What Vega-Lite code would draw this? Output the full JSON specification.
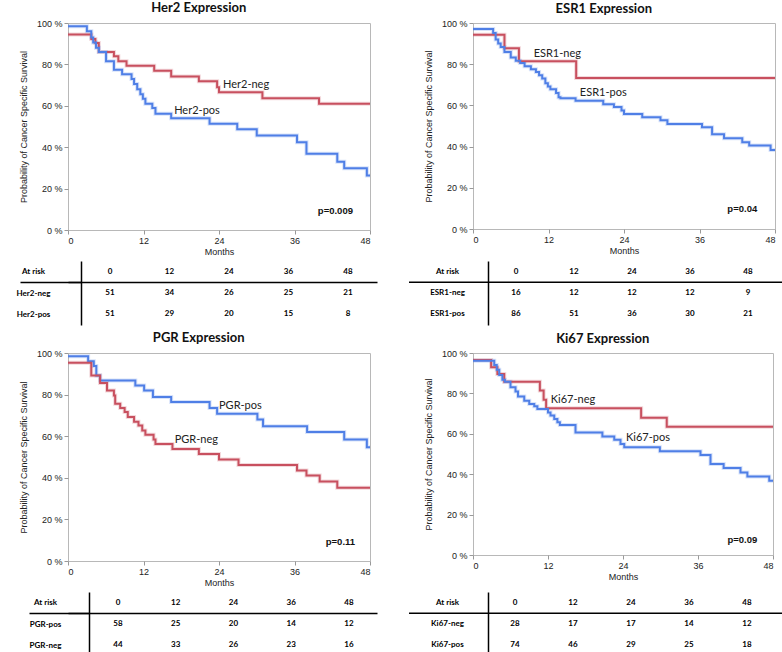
{
  "$schema": "https://vega.github.io/schema/vega-lite/v6.json",
  "padding": {"left": 16, "top": 1, "right": 0, "bottom": 0},
  "background": "white",
  "config": {
    "view": {"stroke": "#b8b8b8"},
    "axis": {"labelFont": "Liberation Sans", "labelFontSize": 9, "labelColor": "#222", "titleFont": "Liberation Sans", "titleFontSize": 9, "titleFontWeight": "normal", "titleColor": "#222", "tickColor": "#999", "domain": false, "grid": false},
    "title": {"font": "Lato", "fontSize": 13, "fontWeight": "bold", "color": "#111", "offset": 3},
    "text": {"font": "Lato"}
  },
  "datasets": {
    "her2": [
      {"group": "Her2-neg", "month": 0, "survival": 94.5}, {"group": "Her2-neg", "month": 3.7, "survival": 92.3}, {"group": "Her2-neg", "month": 4.35, "survival": 90.3}, {"group": "Her2-neg", "month": 4.9, "survival": 86}, {"group": "Her2-neg", "month": 7.3, "survival": 83.9}, {"group": "Her2-neg", "month": 8.0, "survival": 81.5}, {"group": "Her2-neg", "month": 9.3, "survival": 79.4}, {"group": "Her2-neg", "month": 13.7, "survival": 76.9}, {"group": "Her2-neg", "month": 16.4, "survival": 74.2}, {"group": "Her2-neg", "month": 20.8, "survival": 71.8}, {"group": "Her2-neg", "month": 23.7, "survival": 69}, {"group": "Her2-neg", "month": 24.0, "survival": 66.5}, {"group": "Her2-neg", "month": 30.9, "survival": 63.7}, {"group": "Her2-neg", "month": 39.9, "survival": 61}, {"group": "Her2-neg", "month": 48, "survival": 61},
      {"group": "Her2-pos", "month": 0, "survival": 98.4}, {"group": "Her2-pos", "month": 3.0, "survival": 96}, {"group": "Her2-pos", "month": 3.7, "survival": 93}, {"group": "Her2-pos", "month": 4.0, "survival": 90.6}, {"group": "Her2-pos", "month": 4.45, "survival": 88}, {"group": "Her2-pos", "month": 4.9, "survival": 86}, {"group": "Her2-pos", "month": 6.05, "survival": 81.5}, {"group": "Her2-pos", "month": 7.3, "survival": 77.4}, {"group": "Her2-pos", "month": 8.6, "survival": 75.3}, {"group": "Her2-pos", "month": 10.1, "survival": 73}, {"group": "Her2-pos", "month": 10.5, "survival": 70.5}, {"group": "Her2-pos", "month": 11.0, "survival": 68}, {"group": "Her2-pos", "month": 11.5, "survival": 65.6}, {"group": "Her2-pos", "month": 11.9, "survival": 63.4}, {"group": "Her2-pos", "month": 12.3, "survival": 61}, {"group": "Her2-pos", "month": 13.4, "survival": 58.9}, {"group": "Her2-pos", "month": 13.9, "survival": 56.1}, {"group": "Her2-pos", "month": 16.4, "survival": 54}, {"group": "Her2-pos", "month": 22.5, "survival": 51.3}, {"group": "Her2-pos", "month": 26.9, "survival": 48.7}, {"group": "Her2-pos", "month": 30.0, "survival": 45.6}, {"group": "Her2-pos", "month": 36.4, "survival": 42.4}, {"group": "Her2-pos", "month": 37.9, "survival": 36.8}, {"group": "Her2-pos", "month": 42.8, "survival": 33}, {"group": "Her2-pos", "month": 43.9, "survival": 29.8}, {"group": "Her2-pos", "month": 47.5, "survival": 26.3}, {"group": "Her2-pos", "month": 48, "survival": 26.3}
    ],
    "her2_labels": [
      {"kind": "curve", "label": "Her2-neg", "month": 28.3, "survival": 70},
      {"kind": "curve", "label": "Her2-pos", "month": 20.5, "survival": 57.5},
      {"kind": "p", "label": "p=0.009", "month": 42.5, "survival": 9.4}
    ],
    "her2_table": [
      {"row": "At risk", "month": 0, "value": "0"}, {"row": "At risk", "month": 12, "value": "12"}, {"row": "At risk", "month": 24, "value": "24"}, {"row": "At risk", "month": 36, "value": "36"}, {"row": "At risk", "month": 48, "value": "48"},
      {"row": "Her2-neg", "month": 0, "value": "51"}, {"row": "Her2-neg", "month": 12, "value": "34"}, {"row": "Her2-neg", "month": 24, "value": "26"}, {"row": "Her2-neg", "month": 36, "value": "25"}, {"row": "Her2-neg", "month": 48, "value": "21"},
      {"row": "Her2-pos", "month": 0, "value": "51"}, {"row": "Her2-pos", "month": 12, "value": "29"}, {"row": "Her2-pos", "month": 24, "value": "20"}, {"row": "Her2-pos", "month": 36, "value": "15"}, {"row": "Her2-pos", "month": 48, "value": "8"}
    ],
    "esr1": [
      {"group": "ESR1-neg", "month": 0, "survival": 94.3}, {"group": "ESR1-neg", "month": 5.0, "survival": 87.8}, {"group": "ESR1-neg", "month": 7.3, "survival": 81.4}, {"group": "ESR1-neg", "month": 16.4, "survival": 73.3}, {"group": "ESR1-neg", "month": 48, "survival": 73.3},
      {"group": "ESR1-pos", "month": 0, "survival": 97.1}, {"group": "ESR1-pos", "month": 3.2, "survival": 95.1}, {"group": "ESR1-pos", "month": 3.6, "survival": 92}, {"group": "ESR1-pos", "month": 4.0, "survival": 90}, {"group": "ESR1-pos", "month": 4.4, "survival": 88.3}, {"group": "ESR1-pos", "month": 5.0, "survival": 85.9}, {"group": "ESR1-pos", "month": 6.0, "survival": 83.3}, {"group": "ESR1-pos", "month": 6.8, "survival": 81.7}, {"group": "ESR1-pos", "month": 7.5, "survival": 80.6}, {"group": "ESR1-pos", "month": 8.2, "survival": 79}, {"group": "ESR1-pos", "month": 9.2, "survival": 77.6}, {"group": "ESR1-pos", "month": 10.0, "survival": 76.2}, {"group": "ESR1-pos", "month": 10.5, "survival": 74.6}, {"group": "ESR1-pos", "month": 11.0, "survival": 73}, {"group": "ESR1-pos", "month": 11.5, "survival": 70.8}, {"group": "ESR1-pos", "month": 11.9, "survival": 69.2}, {"group": "ESR1-pos", "month": 12.3, "survival": 67.9}, {"group": "ESR1-pos", "month": 13.2, "survival": 66}, {"group": "ESR1-pos", "month": 13.6, "survival": 64}, {"group": "ESR1-pos", "month": 13.9, "survival": 63.5}, {"group": "ESR1-pos", "month": 16.3, "survival": 62.2}, {"group": "ESR1-pos", "month": 20.7, "survival": 60.6}, {"group": "ESR1-pos", "month": 22.4, "survival": 59.2}, {"group": "ESR1-pos", "month": 23.6, "survival": 57.5}, {"group": "ESR1-pos", "month": 24.0, "survival": 55.8}, {"group": "ESR1-pos", "month": 26.9, "survival": 54.3}, {"group": "ESR1-pos", "month": 29.8, "survival": 52.8}, {"group": "ESR1-pos", "month": 30.9, "survival": 51}, {"group": "ESR1-pos", "month": 36.4, "survival": 49.4}, {"group": "ESR1-pos", "month": 38.0, "survival": 46}, {"group": "ESR1-pos", "month": 39.9, "survival": 44}, {"group": "ESR1-pos", "month": 42.8, "survival": 42.1}, {"group": "ESR1-pos", "month": 43.9, "survival": 40.5}, {"group": "ESR1-pos", "month": 47.3, "survival": 38.4}, {"group": "ESR1-pos", "month": 48, "survival": 38.4}
    ],
    "esr1_labels": [
      {"kind": "curve", "label": "ESR1-neg", "month": 13.4, "survival": 85},
      {"kind": "curve", "label": "ESR1-pos", "month": 20.7, "survival": 66},
      {"kind": "p", "label": "p=0.04", "month": 42.8, "survival": 9.7}
    ],
    "esr1_table": [
      {"row": "At risk", "month": 0, "value": "0"}, {"row": "At risk", "month": 12, "value": "12"}, {"row": "At risk", "month": 24, "value": "24"}, {"row": "At risk", "month": 36, "value": "36"}, {"row": "At risk", "month": 48, "value": "48"},
      {"row": "ESR1-neg", "month": 0, "value": "16"}, {"row": "ESR1-neg", "month": 12, "value": "12"}, {"row": "ESR1-neg", "month": 24, "value": "12"}, {"row": "ESR1-neg", "month": 36, "value": "12"}, {"row": "ESR1-neg", "month": 48, "value": "9"},
      {"row": "ESR1-pos", "month": 0, "value": "86"}, {"row": "ESR1-pos", "month": 12, "value": "51"}, {"row": "ESR1-pos", "month": 24, "value": "36"}, {"row": "ESR1-pos", "month": 36, "value": "30"}, {"row": "ESR1-pos", "month": 48, "value": "21"}
    ],
    "pgr": [
      {"group": "PGR-pos", "month": 0, "survival": 98.4}, {"group": "PGR-pos", "month": 3.2, "survival": 96}, {"group": "PGR-pos", "month": 4.1, "survival": 93.7}, {"group": "PGR-pos", "month": 4.5, "survival": 89.2}, {"group": "PGR-pos", "month": 5.1, "survival": 86.8}, {"group": "PGR-pos", "month": 10.7, "survival": 84.4}, {"group": "PGR-pos", "month": 12.1, "survival": 82}, {"group": "PGR-pos", "month": 13.5, "survival": 78.8}, {"group": "PGR-pos", "month": 16.4, "survival": 76.4}, {"group": "PGR-pos", "month": 22.5, "survival": 73.5}, {"group": "PGR-pos", "month": 23.7, "survival": 70.8}, {"group": "PGR-pos", "month": 30.1, "survival": 68}, {"group": "PGR-pos", "month": 31.0, "survival": 64.8}, {"group": "PGR-pos", "month": 38.0, "survival": 62}, {"group": "PGR-pos", "month": 43.9, "survival": 58.4}, {"group": "PGR-pos", "month": 47.5, "survival": 54.7}, {"group": "PGR-pos", "month": 48, "survival": 54.7},
      {"group": "PGR-neg", "month": 0, "survival": 95.3}, {"group": "PGR-neg", "month": 3.7, "survival": 89.2}, {"group": "PGR-neg", "month": 5.1, "survival": 85.6}, {"group": "PGR-neg", "month": 6.2, "survival": 82}, {"group": "PGR-neg", "month": 7.3, "survival": 79.6}, {"group": "PGR-neg", "month": 7.5, "survival": 75.6}, {"group": "PGR-neg", "month": 8.3, "survival": 73.5}, {"group": "PGR-neg", "month": 9.0, "survival": 71.6}, {"group": "PGR-neg", "month": 9.5, "survival": 69.2}, {"group": "PGR-neg", "month": 10.5, "survival": 67}, {"group": "PGR-neg", "month": 11.2, "survival": 65.2}, {"group": "PGR-neg", "month": 11.8, "survival": 62.8}, {"group": "PGR-neg", "month": 12.3, "survival": 60.7}, {"group": "PGR-neg", "month": 13.6, "survival": 58.4}, {"group": "PGR-neg", "month": 13.9, "survival": 56.3}, {"group": "PGR-neg", "month": 16.6, "survival": 53.9}, {"group": "PGR-neg", "month": 20.8, "survival": 51.5}, {"group": "PGR-neg", "month": 24.0, "survival": 48.8}, {"group": "PGR-neg", "month": 27.1, "survival": 46.2}, {"group": "PGR-neg", "month": 36.4, "survival": 43.5}, {"group": "PGR-neg", "month": 37.9, "survival": 41.1}, {"group": "PGR-neg", "month": 40.0, "survival": 38.2}, {"group": "PGR-neg", "month": 42.8, "survival": 35.2}, {"group": "PGR-neg", "month": 48, "survival": 35.2}
    ],
    "pgr_labels": [
      {"kind": "curve", "label": "PGR-pos", "month": 27.4, "survival": 74.5},
      {"kind": "curve", "label": "PGR-neg", "month": 20.4, "survival": 58},
      {"kind": "p", "label": "p=0.11", "month": 43.3, "survival": 9.3}
    ],
    "pgr_table": [
      {"row": "At risk", "month": 0, "value": "0"}, {"row": "At risk", "month": 12, "value": "12"}, {"row": "At risk", "month": 24, "value": "24"}, {"row": "At risk", "month": 36, "value": "36"}, {"row": "At risk", "month": 48, "value": "48"},
      {"row": "PGR-pos", "month": 0, "value": "58"}, {"row": "PGR-pos", "month": 12, "value": "25"}, {"row": "PGR-pos", "month": 24, "value": "20"}, {"row": "PGR-pos", "month": 36, "value": "14"}, {"row": "PGR-pos", "month": 48, "value": "12"},
      {"row": "PGR-neg", "month": 0, "value": "44"}, {"row": "PGR-neg", "month": 12, "value": "33"}, {"row": "PGR-neg", "month": 24, "value": "26"}, {"row": "PGR-neg", "month": 36, "value": "23"}, {"row": "PGR-neg", "month": 48, "value": "16"}
    ],
    "ki67": [
      {"group": "Ki67-neg", "month": 0, "survival": 96.5}, {"group": "Ki67-neg", "month": 2.9, "survival": 92.9}, {"group": "Ki67-neg", "month": 3.9, "survival": 89.6}, {"group": "Ki67-neg", "month": 5.0, "survival": 85.8}, {"group": "Ki67-neg", "month": 10.7, "survival": 81.4}, {"group": "Ki67-neg", "month": 11.3, "survival": 76.9}, {"group": "Ki67-neg", "month": 11.7, "survival": 72.6}, {"group": "Ki67-neg", "month": 26.9, "survival": 68}, {"group": "Ki67-neg", "month": 31.0, "survival": 63.5}, {"group": "Ki67-neg", "month": 48, "survival": 63.5},
      {"group": "Ki67-pos", "month": 0, "survival": 96.2}, {"group": "Ki67-pos", "month": 3.4, "survival": 94}, {"group": "Ki67-pos", "month": 3.8, "survival": 91.7}, {"group": "Ki67-pos", "month": 4.2, "survival": 89.1}, {"group": "Ki67-pos", "month": 4.7, "survival": 86.8}, {"group": "Ki67-pos", "month": 5.1, "survival": 85.8}, {"group": "Ki67-pos", "month": 6.0, "survival": 83}, {"group": "Ki67-pos", "month": 6.8, "survival": 80.9}, {"group": "Ki67-pos", "month": 7.2, "survival": 78.5}, {"group": "Ki67-pos", "month": 8.2, "survival": 76.4}, {"group": "Ki67-pos", "month": 9.0, "survival": 74.8}, {"group": "Ki67-pos", "month": 9.8, "survival": 73.6}, {"group": "Ki67-pos", "month": 10.3, "survival": 72.3}, {"group": "Ki67-pos", "month": 12.0, "survival": 70.6}, {"group": "Ki67-pos", "month": 12.4, "survival": 69}, {"group": "Ki67-pos", "month": 13.0, "survival": 67.3}, {"group": "Ki67-pos", "month": 13.5, "survival": 65.7}, {"group": "Ki67-pos", "month": 13.9, "survival": 64.4}, {"group": "Ki67-pos", "month": 16.4, "survival": 60.7}, {"group": "Ki67-pos", "month": 20.7, "survival": 58.7}, {"group": "Ki67-pos", "month": 22.6, "survival": 57.1}, {"group": "Ki67-pos", "month": 23.6, "survival": 55}, {"group": "Ki67-pos", "month": 24.2, "survival": 53.3}, {"group": "Ki67-pos", "month": 29.9, "survival": 51.3}, {"group": "Ki67-pos", "month": 36.4, "survival": 49.5}, {"group": "Ki67-pos", "month": 38.0, "survival": 45}, {"group": "Ki67-pos", "month": 40.1, "survival": 43.1}, {"group": "Ki67-pos", "month": 42.8, "survival": 40.9}, {"group": "Ki67-pos", "month": 43.9, "survival": 38.9}, {"group": "Ki67-pos", "month": 47.4, "survival": 36.8}, {"group": "Ki67-pos", "month": 48, "survival": 36.8}
    ],
    "ki67_labels": [
      {"kind": "curve", "label": "Ki67-neg", "month": 16, "survival": 76.9},
      {"kind": "curve", "label": "Ki67-pos", "month": 28, "survival": 57.8},
      {"kind": "p", "label": "p=0.09", "month": 43.1, "survival": 7.6}
    ],
    "ki67_table": [
      {"row": "At risk", "month": 0, "value": "0"}, {"row": "At risk", "month": 12, "value": "12"}, {"row": "At risk", "month": 24, "value": "24"}, {"row": "At risk", "month": 36, "value": "36"}, {"row": "At risk", "month": 48, "value": "48"},
      {"row": "Ki67-neg", "month": 0, "value": "28"}, {"row": "Ki67-neg", "month": 12, "value": "17"}, {"row": "Ki67-neg", "month": 24, "value": "17"}, {"row": "Ki67-neg", "month": 36, "value": "14"}, {"row": "Ki67-neg", "month": 48, "value": "12"},
      {"row": "Ki67-pos", "month": 0, "value": "74"}, {"row": "Ki67-pos", "month": 12, "value": "46"}, {"row": "Ki67-pos", "month": 24, "value": "29"}, {"row": "Ki67-pos", "month": 36, "value": "25"}, {"row": "Ki67-pos", "month": 48, "value": "18"}
    ]
  },
  "spacing": 6,
  "vconcat": [
    {
      "spacing": 0,
      "vconcat": [
        {
          "spacing": 44,
          "hconcat": [
            {
              "title": {"text": "Her2 Expression", "frame": "bounds", "anchor": "middle"}, "width": 302, "height": 207,
              "layer": [
                {"data": {"name": "her2"}, "mark": {"type": "line", "interpolate": "step-after", "strokeWidth": 4, "opacity": 0.22},
                 "encoding": {
                   "x": {"field": "month", "type": "quantitative", "scale": {"domain": [0, 48], "nice": false}, "axis": {"values": [0, 12, 24, 36, 48], "title": "Months", "tickSize": 4, "labelPadding": 2, "titlePadding": 2}},
                   "y": {"field": "survival", "type": "quantitative", "scale": {"domain": [0, 100], "nice": false}, "axis": {"values": [0, 10, 20, 30, 40, 50, 60, 70, 80, 90, 100], "labelExpr": "datum.value % 20 === 0 ? datum.value + ' %' : ''", "tickSize": {"condition": {"test": "datum.value % 20 === 0", "value": 4}, "value": 2}, "labelPadding": 2, "title": "Probability of Cancer Specific Survival", "titlePadding": 8}},
                   "color": {"field": "group", "type": "nominal", "scale": {"domain": ["Her2-neg", "Her2-pos"], "range": ["#c8505f", "#4f7fe6"]}, "legend": null}
                 }},
                {"data": {"name": "her2"}, "mark": {"type": "line", "interpolate": "step-after", "strokeWidth": 2},
                 "encoding": {
                   "x": {"field": "month", "type": "quantitative"},
                   "y": {"field": "survival", "type": "quantitative"},
                   "color": {"field": "group", "type": "nominal", "legend": null}
                 }},
                {"data": {"name": "her2_labels"}, "transform": [{"filter": "datum.kind === 'curve'"}], "mark": {"type": "text", "fontSize": 11, "color": "#222"},
                 "encoding": {"x": {"field": "month", "type": "quantitative"}, "y": {"field": "survival", "type": "quantitative"}, "text": {"field": "label"}}},
                {"data": {"name": "her2_labels"}, "transform": [{"filter": "datum.kind === 'p'"}], "mark": {"type": "text", "font": "Liberation Sans", "fontWeight": "bold", "fontSize": 9.5, "color": "#111"},
                 "encoding": {"x": {"field": "month", "type": "quantitative"}, "y": {"field": "survival", "type": "quantitative"}, "text": {"field": "label"}}}
              ]
            },
            {
              "title": {"text": "ESR1 Expression", "frame": "bounds", "anchor": "middle"}, "width": 302, "height": 206,
              "layer": [
                {"data": {"name": "esr1"}, "mark": {"type": "line", "interpolate": "step-after", "strokeWidth": 4, "opacity": 0.22},
                 "encoding": {
                   "x": {"field": "month", "type": "quantitative", "scale": {"domain": [0, 48], "nice": false}, "axis": {"values": [0, 12, 24, 36, 48], "title": "Months", "tickSize": 4, "labelPadding": 2, "titlePadding": 2}},
                   "y": {"field": "survival", "type": "quantitative", "scale": {"domain": [0, 100], "nice": false}, "axis": {"values": [0, 10, 20, 30, 40, 50, 60, 70, 80, 90, 100], "labelExpr": "datum.value % 20 === 0 ? datum.value + ' %' : ''", "tickSize": {"condition": {"test": "datum.value % 20 === 0", "value": 4}, "value": 2}, "labelPadding": 2, "title": "Probability of Cancer Specific Survival", "titlePadding": 8}},
                   "color": {"field": "group", "type": "nominal", "scale": {"domain": ["ESR1-neg", "ESR1-pos"], "range": ["#c8505f", "#4f7fe6"]}, "legend": null}
                 }},
                {"data": {"name": "esr1"}, "mark": {"type": "line", "interpolate": "step-after", "strokeWidth": 2},
                 "encoding": {
                   "x": {"field": "month", "type": "quantitative"},
                   "y": {"field": "survival", "type": "quantitative"},
                   "color": {"field": "group", "type": "nominal", "legend": null}
                 }},
                {"data": {"name": "esr1_labels"}, "transform": [{"filter": "datum.kind === 'curve'"}], "mark": {"type": "text", "fontSize": 11, "color": "#222"},
                 "encoding": {"x": {"field": "month", "type": "quantitative"}, "y": {"field": "survival", "type": "quantitative"}, "text": {"field": "label"}}},
                {"data": {"name": "esr1_labels"}, "transform": [{"filter": "datum.kind === 'p'"}], "mark": {"type": "text", "font": "Liberation Sans", "fontWeight": "bold", "fontSize": 9.5, "color": "#111"},
                 "encoding": {"x": {"field": "month", "type": "quantitative"}, "y": {"field": "survival", "type": "quantitative"}, "text": {"field": "label"}}}
              ]
            }
          ]
        },
        {
          "spacing": 31,
          "hconcat": [
            {
              "width": 309, "height": 64, "view": {"stroke": null},
              "data": {"name": "her2_table"},
              "mark": {"type": "text", "fontWeight": "bold", "fontSize": 8, "color": "black"},
              "encoding": {
                "x": {"field": "month", "type": "quantitative", "scale": {"domain": [-8.47, 53.85], "nice": false, "zero": false}, "axis": null},
                "y": {"field": "row", "type": "nominal", "scale": {"domain": ["At risk", "Her2-neg", "Her2-pos"], "paddingInner": 0, "paddingOuter": 0},
                  "axis": {"orient": "left", "offset": -13, "title": null, "domain": true, "domainColor": "black", "domainWidth": 1.5, "ticks": true, "tickBand": "extent", "tickSize": 61, "tickColor": "black", "tickWidth": 1.5, "tickOpacity": {"condition": {"test": "datum.value === 'At risk'", "value": 1}, "value": 0}, "grid": true, "gridColor": "black", "gridWidth": 1.5, "gridOpacity": {"condition": {"test": "datum.value === 'At risk'", "value": 1}, "value": 0}, "labelAlign": "center", "labelPadding": -13, "labelFont": "Lato", "labelFontWeight": "bold", "labelFontSize": 8, "labelColor": "black"}},
                "text": {"field": "value"}
              }
            },
            {
              "width": 373, "height": 64, "view": {"stroke": null},
              "data": {"name": "esr1_table"},
              "layer": [
                {"transform": [{"filter": "datum.row === 'At risk' && datum.month === 0"}], "mark": {"type": "rule", "color": "black", "strokeWidth": 1.5},
                 "encoding": {"y": {"field": "row", "type": "nominal", "bandPosition": 1, "scale": {"domain": ["At risk", "ESR1-neg", "ESR1-pos"], "paddingInner": 0, "paddingOuter": 0}, "axis": {"orient": "left", "offset": -79, "title": null, "ticks": false, "tickSize": 0, "domain": true, "domainColor": "black", "domainWidth": 1.5, "labelAlign": "center", "labelPadding": 41, "labelFont": "Lato", "labelFontWeight": "bold", "labelFontSize": 8, "labelColor": "black"}}}},
                {"mark": {"type": "text", "fontWeight": "bold", "fontSize": 8, "color": "black"},
                 "encoding": {"x": {"field": "month", "type": "quantitative", "scale": {"domain": [-22.14, 55.04], "nice": false, "zero": false}, "axis": null},
                   "y": {"field": "row", "type": "nominal", "scale": {"domain": ["At risk", "ESR1-neg", "ESR1-pos"], "paddingInner": 0, "paddingOuter": 0}},
                   "text": {"field": "value"}}}
              ]
            }
          ]
        }
      ]
    },
    {
      "spacing": 0,
      "vconcat": [
        {
          "spacing": 44,
          "hconcat": [
            {
              "title": {"text": "PGR Expression", "frame": "bounds", "anchor": "middle"}, "width": 302, "height": 208,
              "layer": [
                {"data": {"name": "pgr"}, "mark": {"type": "line", "interpolate": "step-after", "strokeWidth": 4, "opacity": 0.22},
                 "encoding": {
                   "x": {"field": "month", "type": "quantitative", "scale": {"domain": [0, 48], "nice": false}, "axis": {"values": [0, 12, 24, 36, 48], "title": "Months", "tickSize": 4, "labelPadding": 2, "titlePadding": 2}},
                   "y": {"field": "survival", "type": "quantitative", "scale": {"domain": [0, 100], "nice": false}, "axis": {"values": [0, 10, 20, 30, 40, 50, 60, 70, 80, 90, 100], "labelExpr": "datum.value % 20 === 0 ? datum.value + ' %' : ''", "tickSize": {"condition": {"test": "datum.value % 20 === 0", "value": 4}, "value": 2}, "labelPadding": 2, "title": "Probability of Cancer Specific Survival", "titlePadding": 8}},
                   "color": {"field": "group", "type": "nominal", "scale": {"domain": ["PGR-neg", "PGR-pos"], "range": ["#c8505f", "#4f7fe6"]}, "legend": null}
                 }},
                {"data": {"name": "pgr"}, "mark": {"type": "line", "interpolate": "step-after", "strokeWidth": 2},
                 "encoding": {
                   "x": {"field": "month", "type": "quantitative"},
                   "y": {"field": "survival", "type": "quantitative"},
                   "color": {"field": "group", "type": "nominal", "legend": null}
                 }},
                {"data": {"name": "pgr_labels"}, "transform": [{"filter": "datum.kind === 'curve'"}], "mark": {"type": "text", "fontSize": 11, "color": "#222"},
                 "encoding": {"x": {"field": "month", "type": "quantitative"}, "y": {"field": "survival", "type": "quantitative"}, "text": {"field": "label"}}},
                {"data": {"name": "pgr_labels"}, "transform": [{"filter": "datum.kind === 'p'"}], "mark": {"type": "text", "font": "Liberation Sans", "fontWeight": "bold", "fontSize": 9.5, "color": "#111"},
                 "encoding": {"x": {"field": "month", "type": "quantitative"}, "y": {"field": "survival", "type": "quantitative"}, "text": {"field": "label"}}}
              ]
            },
            {
              "title": {"text": "Ki67 Expression", "frame": "bounds", "anchor": "middle"}, "width": 300, "height": 202,
              "layer": [
                {"data": {"name": "ki67"}, "mark": {"type": "line", "interpolate": "step-after", "strokeWidth": 4, "opacity": 0.22},
                 "encoding": {
                   "x": {"field": "month", "type": "quantitative", "scale": {"domain": [0, 48], "nice": false}, "axis": {"values": [0, 12, 24, 36, 48], "title": "Months", "tickSize": 4, "labelPadding": 2, "titlePadding": 2}},
                   "y": {"field": "survival", "type": "quantitative", "scale": {"domain": [0, 100], "nice": false}, "axis": {"values": [0, 10, 20, 30, 40, 50, 60, 70, 80, 90, 100], "labelExpr": "datum.value % 20 === 0 ? datum.value + ' %' : ''", "tickSize": {"condition": {"test": "datum.value % 20 === 0", "value": 4}, "value": 2}, "labelPadding": 2, "title": "Probability of Cancer Specific Survival", "titlePadding": 8}},
                   "color": {"field": "group", "type": "nominal", "scale": {"domain": ["Ki67-neg", "Ki67-pos"], "range": ["#c8505f", "#4f7fe6"]}, "legend": null}
                 }},
                {"data": {"name": "ki67"}, "mark": {"type": "line", "interpolate": "step-after", "strokeWidth": 2},
                 "encoding": {
                   "x": {"field": "month", "type": "quantitative"},
                   "y": {"field": "survival", "type": "quantitative"},
                   "color": {"field": "group", "type": "nominal", "legend": null}
                 }},
                {"data": {"name": "ki67_labels"}, "transform": [{"filter": "datum.kind === 'curve'"}], "mark": {"type": "text", "fontSize": 11, "color": "#222"},
                 "encoding": {"x": {"field": "month", "type": "quantitative"}, "y": {"field": "survival", "type": "quantitative"}, "text": {"field": "label"}}},
                {"data": {"name": "ki67_labels"}, "transform": [{"filter": "datum.kind === 'p'"}], "mark": {"type": "text", "font": "Liberation Sans", "fontWeight": "bold", "fontSize": 9.5, "color": "#111"},
                 "encoding": {"x": {"field": "month", "type": "quantitative"}, "y": {"field": "survival", "type": "quantitative"}, "text": {"field": "label"}}}
              ]
            }
          ]
        },
        {
          "spacing": 31,
          "hconcat": [
            {
              "width": 309, "height": 64, "view": {"stroke": null},
              "data": {"name": "pgr_table"},
              "mark": {"type": "text", "fontWeight": "bold", "fontSize": 8, "color": "black"},
              "encoding": {
                "x": {"field": "month", "type": "quantitative", "scale": {"domain": [-10.39, 53.82], "nice": false, "zero": false}, "axis": null},
                "y": {"field": "row", "type": "nominal", "scale": {"domain": ["At risk", "PGR-pos", "PGR-neg"], "paddingInner": 0, "paddingOuter": 0},
                  "axis": {"orient": "left", "offset": -21, "title": null, "domain": true, "domainColor": "black", "domainWidth": 1.5, "ticks": true, "tickBand": "extent", "tickSize": 60, "tickColor": "black", "tickWidth": 1.5, "tickOpacity": {"condition": {"test": "datum.value === 'At risk'", "value": 1}, "value": 0}, "grid": true, "gridColor": "black", "gridWidth": 1.5, "gridOpacity": {"condition": {"test": "datum.value === 'At risk'", "value": 1}, "value": 0}, "labelAlign": "center", "labelPadding": -16, "labelFont": "Lato", "labelFontWeight": "bold", "labelFontSize": 8, "labelColor": "black"}},
                "text": {"field": "value"}
              }
            },
            {
              "width": 373, "height": 64, "view": {"stroke": null},
              "data": {"name": "ki67_table"},
              "layer": [
                {"transform": [{"filter": "datum.row === 'At risk' && datum.month === 0"}], "mark": {"type": "rule", "color": "black", "strokeWidth": 1.5},
                 "encoding": {"y": {"field": "row", "type": "nominal", "bandPosition": 1, "scale": {"domain": ["At risk", "Ki67-neg", "Ki67-pos"], "paddingInner": 0, "paddingOuter": 0}, "axis": {"orient": "left", "offset": -79, "title": null, "ticks": false, "tickSize": 0, "domain": true, "domainColor": "black", "domainWidth": 1.5, "labelAlign": "center", "labelPadding": 41, "labelFont": "Lato", "labelFontWeight": "bold", "labelFontSize": 8, "labelColor": "black"}}}},
                {"mark": {"type": "text", "fontWeight": "bold", "fontSize": 8, "color": "black"},
                 "encoding": {"x": {"field": "month", "type": "quantitative", "scale": {"domain": [-21.93, 55.24], "nice": false, "zero": false}, "axis": null},
                   "y": {"field": "row", "type": "nominal", "scale": {"domain": ["At risk", "Ki67-neg", "Ki67-pos"], "paddingInner": 0, "paddingOuter": 0}},
                   "text": {"field": "value"}}}
              ]
            }
          ]
        }
      ]
    }
  ]
}
